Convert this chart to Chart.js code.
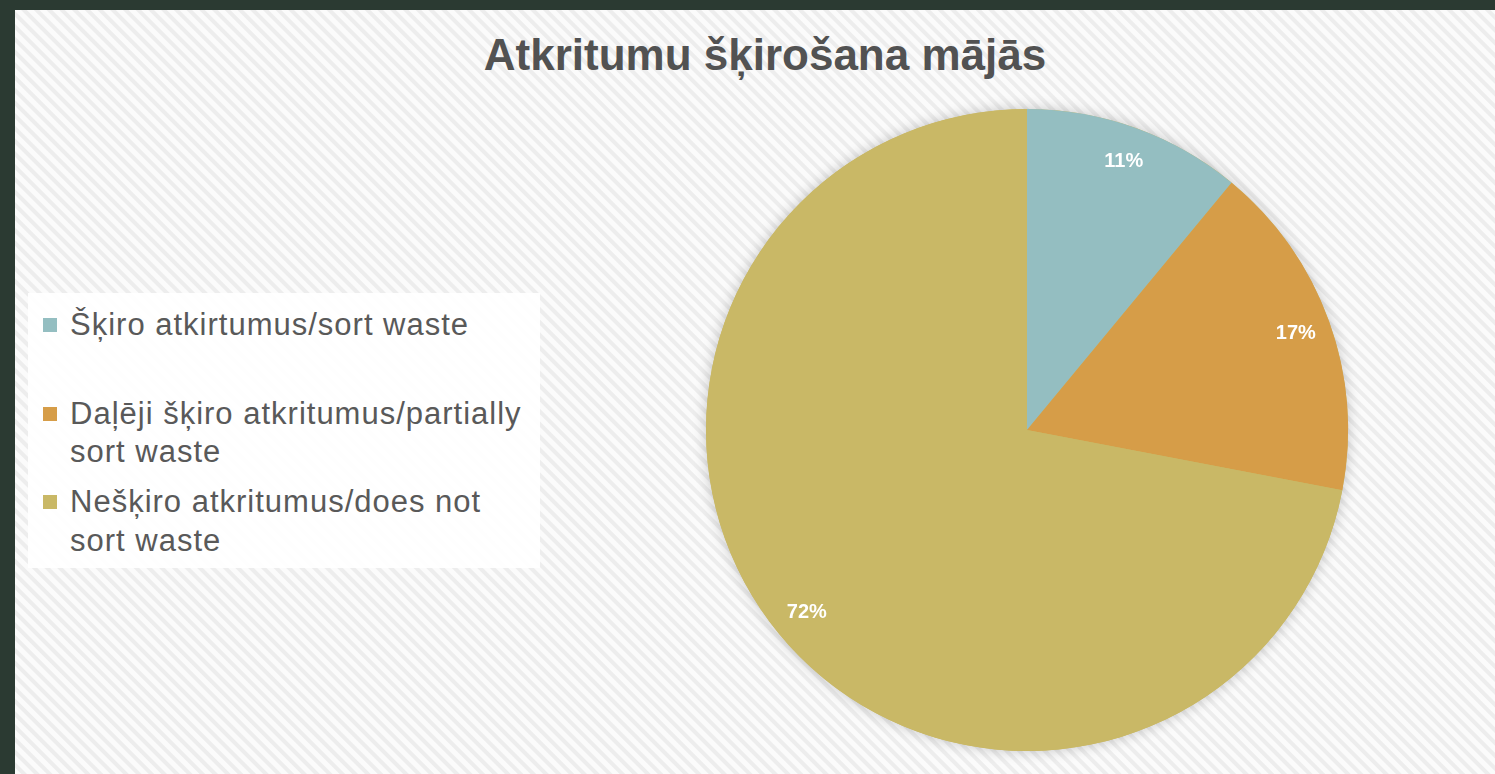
<!DOCTYPE html>
<html>
<head>
<meta charset="utf-8">
<script src="https://cdn.jsdelivr.net/npm/chart.js@4"></script>
<style>
  body { margin: 0; width: 1495px; height: 774px; background: #2b3a32; overflow: hidden; font-family: "Liberation Sans", Arial, sans-serif; }
  #slide {
    position: absolute; left: 15px; top: 10px; width: 1480px; height: 764px;
    background: repeating-linear-gradient(45deg, #fbfbfb 0px, #fbfbfb 4px, #ededed 5px, #ededed 8px, #fbfbfb 9px);
  }
  #title {
    position: absolute; left: 0; top: 18px; width: 1500px; text-align: center;
    font-weight: bold; font-size: 44px; color: #525252; line-height: 54px;
  }
  #legend {
    position: absolute; left: 13px; top: 283px; width: 512px; height: 275px;
    background: rgba(255,255,255,0.92);
  }
  .item { position: absolute; left: 42px; width: 480px; font-size: 31px; letter-spacing: 1px; line-height: 38.5px; color: #595959; }
  .item .box { position: absolute; left: -27px; top: 12px; width: 14px; height: 14px; }
  #wrap { position: absolute; left: 672px; top: 80px; width: 680px; height: 680px; }
</style>
</head>
<body>
<div id="slide">
  <div id="title">Atkritumu šķirošana mājās</div>
  <div id="legend"></div>
  <div id="wrap"><canvas id="myChart"></canvas></div>
</div>
<script>
  const labels = ["Šķiro atkirtumus/sort waste", "Daļēji šķiro atkritumus/partially sort waste", "Nešķiro atkritumus/does not sort waste"];
  const legendLines = [["Šķiro atkirtumus/sort waste"], ["Daļēji šķiro atkritumus/partially", "sort waste"], ["Nešķiro atkritumus/does not", "sort waste"]];
  const values = [11, 17, 72];
  const colors = ["#94bec1", "#d69d48", "#c9b866"];

  // html legend built from the same arrays
  const legendEl = document.getElementById("legend");
  legendLines.forEach((lines, i) => {
    const div = document.createElement("div");
    div.className = "item";
    div.style.top = (13 + i * 88.5) + "px";
    div.innerHTML = `<span class="box" style="background:${colors[i]}"></span>` + lines.join("<br>");
    legendEl.appendChild(div);
  });

  // soft shadow behind the whole pie
  const pieShadow = {
    id: "pieShadow",
    beforeDatasetsDraw(chart) {
      const arc = chart.getDatasetMeta(0).data[0];
      if (!arc) return;
      const ctx = chart.ctx;
      ctx.save();
      ctx.shadowColor = "rgba(0,0,0,0.22)";
      ctx.shadowBlur = 14;
      ctx.fillStyle = "#c9b866";
      ctx.beginPath();
      ctx.arc(arc.x, arc.y, arc.outerRadius, 0, Math.PI * 2);
      ctx.fill();
      ctx.restore();
    }
  };

  // percent labels inside the slices
  const pctLabels = {
    id: "pctLabels",
    afterDatasetsDraw(chart) {
      const ctx = chart.ctx;
      ctx.save();
      ctx.font = "bold 20px 'Liberation Sans', Arial, sans-serif";
      ctx.fillStyle = "#ffffff";
      ctx.textAlign = "center";
      ctx.textBaseline = "middle";
      chart.getDatasetMeta(0).data.forEach((a, i) => {
        const mid = (a.startAngle + a.endAngle) / 2;
        const r = a.outerRadius * 0.89;
        ctx.fillText(values[i] + "%", a.x + Math.cos(mid) * r, a.y + Math.sin(mid) * r);
      });
      ctx.restore();
    }
  };

  const ctx = document.getElementById("myChart").getContext("2d");
  new Chart(ctx, {
    type: "pie",
    data: {
      labels: labels,
      datasets: [{
        data: values,
        backgroundColor: colors,
        borderWidth: 0
      }]
    },
    options: {
      responsive: true,
      maintainAspectRatio: false,
      animation: false,
      layout: { padding: 19 },
      plugins: { legend: { display: false }, tooltip: { enabled: false } }
    },
    plugins: [pieShadow, pctLabels]
  });
</script>
</body>
</html>
